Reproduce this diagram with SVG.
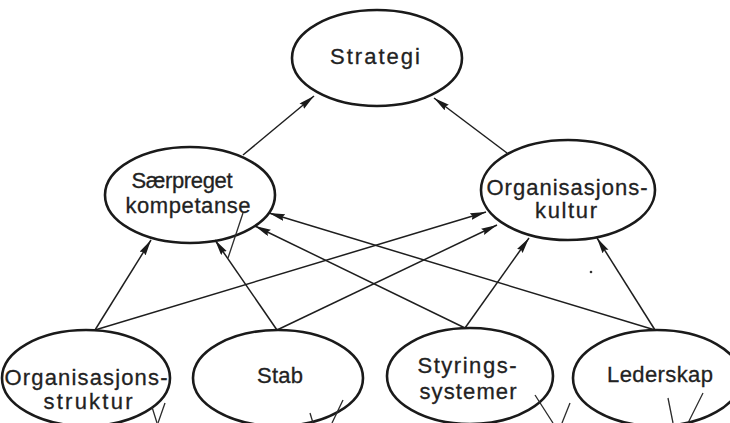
<svg xmlns="http://www.w3.org/2000/svg" width="730" height="423" viewBox="0 0 730 423">
<defs>
<marker id="ah" markerUnits="userSpaceOnUse" markerWidth="17" markerHeight="8" refX="16" refY="3.5" orient="auto">
<path d="M0,0 L16,3.5 L0,7 L2,3.5 z" fill="#1a1a1a"/>
</marker>
<style>
.n ellipse{fill:none;stroke:#1a1a1a;stroke-width:2.6}
.n text{font-family:"Liberation Sans",Arial,sans-serif;font-size:22px;fill:#222;stroke:#222;stroke-width:0.3;text-anchor:middle}
.c line{stroke:#1e1e1e;stroke-width:1.5;marker-end:url(#ah)}
.m line{stroke:#2a2a2a;stroke-width:1.3}
</style>
</defs>
<rect width="730" height="423" fill="#ffffff"/>
<g class="c" id="connectors">
<line x1="243" y1="155" x2="314" y2="96"/>
<line x1="507" y1="153" x2="434" y2="98"/>
<line x1="95" y1="330" x2="151" y2="240"/>
<line x1="95" y1="330" x2="486" y2="212"/>
<line x1="277" y1="330" x2="215" y2="240"/>
<line x1="277" y1="330" x2="497" y2="225"/>
<line x1="465" y1="328" x2="255" y2="226"/>
<line x1="465" y1="328" x2="529" y2="238"/>
<line x1="655" y1="330" x2="269" y2="213"/>
<line x1="655" y1="330" x2="597" y2="238"/>
</g>
<g class="n" id="strategi">
<ellipse cx="377" cy="58" rx="85" ry="48"/>
<text x="375" y="64" textLength="90" lengthAdjust="spacing">Strategi</text>
</g>
<g class="n" id="saerpreget">
<ellipse cx="190" cy="195" rx="85" ry="48"/>
<text x="182" y="188" textLength="101" lengthAdjust="spacing">Særpreget</text>
<text x="188" y="213" textLength="125" lengthAdjust="spacing">kompetanse</text>
</g>
<g class="n" id="orgkultur">
<ellipse cx="568" cy="190" rx="87" ry="50"/>
<text x="567" y="195" textLength="161" lengthAdjust="spacing">Organisasjons-</text>
<text x="566" y="218" textLength="62" lengthAdjust="spacing">kultur</text>
</g>
<g class="n" id="orgstruktur">
<ellipse cx="86" cy="378" rx="84" ry="48"/>
<text x="86" y="385" textLength="163" lengthAdjust="spacing">Organisasjons-</text>
<text x="88" y="409" textLength="89" lengthAdjust="spacing">struktur</text>
</g>
<g class="n" id="stab">
<ellipse cx="278" cy="378" rx="85" ry="48"/>
<text x="280" y="383" textLength="46" lengthAdjust="spacing">Stab</text>
</g>
<g class="n" id="styring">
<ellipse cx="470" cy="376" rx="83" ry="48"/>
<text x="467" y="373" textLength="99" lengthAdjust="spacing">Styrings-</text>
<text x="468" y="399" textLength="97" lengthAdjust="spacing">systemer</text>
</g>
<g class="n" id="lederskap">
<ellipse cx="657" cy="378" rx="84" ry="48"/>
<text x="660" y="382" textLength="106" lengthAdjust="spacing">Lederskap</text>
</g>
<g class="m" id="marks">
<line x1="243" y1="213" x2="228" y2="258"/>
<line x1="152" y1="407" x2="157" y2="423"/>
<line x1="165" y1="403" x2="158" y2="423"/>
<line x1="310" y1="413" x2="313" y2="423"/>
<line x1="343" y1="400" x2="332" y2="423"/>
<line x1="535" y1="395" x2="553" y2="423"/>
<line x1="570" y1="403" x2="562" y2="423"/>
<line x1="668" y1="398" x2="673" y2="423"/>
<line x1="703" y1="393" x2="688" y2="423"/>
<circle cx="591" cy="272" r="1.3" fill="#333"/>
</g>
</svg>
